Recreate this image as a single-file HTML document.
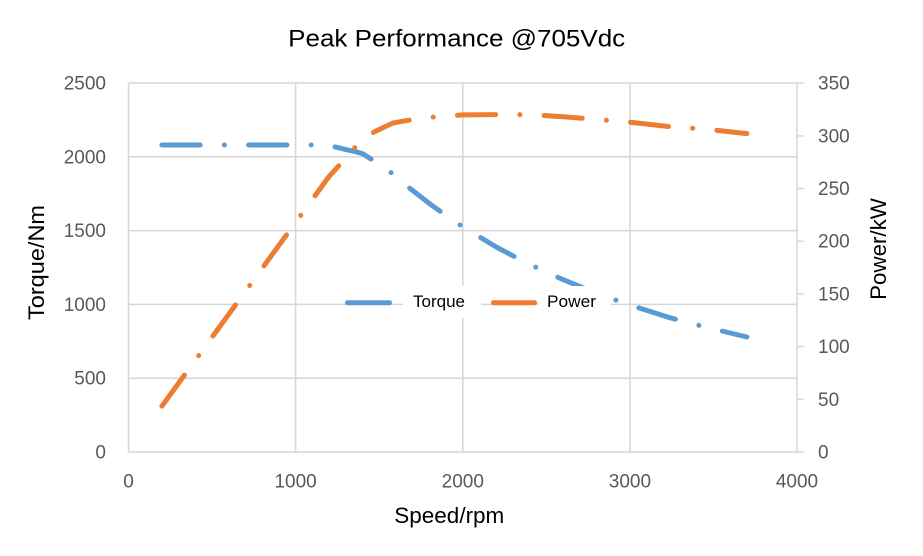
<!DOCTYPE html>
<html>
<head>
<meta charset="utf-8">
<style>
  html, body { margin: 0; padding: 0; background: #ffffff; }
  svg { display: block; }
  text { font-family: "Liberation Sans", Arial, sans-serif; }
  .tick { font-size: 19px; fill: #595959; }
  .ttl { font-size: 22px; fill: #000000; }
</style>
</head>
<body>
<svg width="923" height="556" viewBox="0 0 923 556" xmlns="http://www.w3.org/2000/svg">
  <rect x="0" y="0" width="923" height="556" fill="#ffffff"/>

  <!-- Title -->
  <text x="456.7" y="46.7" text-anchor="middle" font-size="24" fill="#000" textLength="337" lengthAdjust="spacingAndGlyphs">Peak Performance @705Vdc</text>

  <!-- Gridlines -->
  <g stroke="#d6d6d6" stroke-width="1.5" fill="none">
    <line x1="128.5" y1="83" x2="797" y2="83"/>
    <line x1="128.5" y1="156.8" x2="797" y2="156.8"/>
    <line x1="128.5" y1="230.6" x2="797" y2="230.6"/>
    <line x1="128.5" y1="304.4" x2="797" y2="304.4"/>
    <line x1="128.5" y1="378.2" x2="797" y2="378.2"/>
    <line x1="128.5" y1="452" x2="797" y2="452"/>
    <line x1="128.5" y1="83" x2="128.5" y2="452"/>
    <line x1="295.6" y1="83" x2="295.6" y2="452"/>
    <line x1="462.8" y1="83" x2="462.8" y2="452"/>
    <line x1="629.9" y1="83" x2="629.9" y2="452"/>
    <line x1="797" y1="83" x2="797" y2="452"/>
    <!-- right axis ticks -->
    <line x1="797" y1="83" x2="803.5" y2="83"/>
    <line x1="797" y1="135.9" x2="803.5" y2="135.9"/>
    <line x1="797" y1="188.6" x2="803.5" y2="188.6"/>
    <line x1="797" y1="241.2" x2="803.5" y2="241.2"/>
    <line x1="797" y1="293.9" x2="803.5" y2="293.9"/>
    <line x1="797" y1="346.6" x2="803.5" y2="346.6"/>
    <line x1="797" y1="399.3" x2="803.5" y2="399.3"/>
    <line x1="797" y1="452" x2="803.5" y2="452"/>
  </g>

  <!-- Left tick labels -->
  <g class="tick" text-anchor="end">
    <text x="106" y="89.5">2500</text>
    <text x="106" y="163.3">2000</text>
    <text x="106" y="237.1">1500</text>
    <text x="106" y="310.9">1000</text>
    <text x="106" y="384.7">500</text>
    <text x="106" y="458.5">0</text>
  </g>

  <!-- Right tick labels -->
  <g class="tick" text-anchor="start">
    <text x="818" y="89.5">350</text>
    <text x="818" y="142.4">300</text>
    <text x="818" y="195.1">250</text>
    <text x="818" y="247.7">200</text>
    <text x="818" y="300.4">150</text>
    <text x="818" y="353.1">100</text>
    <text x="818" y="405.8">50</text>
    <text x="818" y="458.5">0</text>
  </g>

  <!-- Bottom tick labels -->
  <g class="tick" text-anchor="middle">
    <text x="128.5" y="487.5">0</text>
    <text x="295.6" y="487.5">1000</text>
    <text x="462.8" y="487.5">2000</text>
    <text x="629.9" y="487.5">3000</text>
    <text x="797" y="487.5">4000</text>
  </g>

  <!-- Axis titles -->
  <text class="ttl" x="449.3" y="523" text-anchor="middle" textLength="110" lengthAdjust="spacingAndGlyphs">Speed/rpm</text>
  <text class="ttl" transform="translate(44,262.5) rotate(-90)" x="0" y="0" text-anchor="middle" textLength="115" lengthAdjust="spacingAndGlyphs">Torque/Nm</text>
  <text class="ttl" transform="translate(885.8,249) rotate(-90)" x="0" y="0" text-anchor="middle" textLength="101.7" lengthAdjust="spacingAndGlyphs">Power/kW</text>

  <!-- Torque series -->
  <polyline fill="none" stroke="#5b9bd5" stroke-width="5" stroke-linecap="round" stroke-linejoin="round"
    stroke-dasharray="38.3 24.2 0.01 24.2"
    points="161.9,145.0 320.7,145.0 329.1,145.4 337.4,147.5 345.8,149.6 354.1,151.3 362.5,153.6 375.0,161.5 392.7,173.8 410.1,188.5 430.8,204.6 451.7,219.5 462.8,226.7 496.2,247.0 517.1,258.0 539.6,269.0 563.0,279.6 596.5,293.2 628.2,304.5 668.3,317.3 690.1,323.1 711.8,328.6 746.9,337.0"/>

  <!-- Power series -->
  <polyline fill="none" stroke="#ed7d31" stroke-width="5" stroke-linecap="round" stroke-linejoin="round"
    stroke-dasharray="38.3 24.2 0.01 24.2"
    points="161.9,406.1 320.7,187.9 329.1,176.4 337.4,167.3 345.8,157.9 354.1,148.4 362.5,139.4 375.0,131.5 392.7,123.1 410.1,119.9 430.8,117.3 451.7,115.7 462.8,114.9 496.2,114.6 517.1,114.6 539.6,115.2 563.0,116.7 596.5,119.4 628.2,122.0 668.3,126.5 690.1,128.0 711.8,129.8 746.9,133.6"/>

  <!-- Legend -->
  <rect x="403" y="286" width="78" height="32" fill="#ffffff"/>
  <rect x="538" y="286" width="73" height="32" fill="#ffffff"/>
  <line x1="347.5" y1="302.7" x2="389.5" y2="302.7" stroke="#5b9bd5" stroke-width="5" stroke-linecap="round"/>
  <line x1="493.5" y1="302.7" x2="534.5" y2="302.7" stroke="#ed7d31" stroke-width="5" stroke-linecap="round"/>
  <text x="413" y="307" font-size="16.5" fill="#000" textLength="52" lengthAdjust="spacingAndGlyphs">Torque</text>
  <text x="547" y="307" font-size="16.5" fill="#000" textLength="49" lengthAdjust="spacingAndGlyphs">Power</text>
</svg>
</body>
</html>
